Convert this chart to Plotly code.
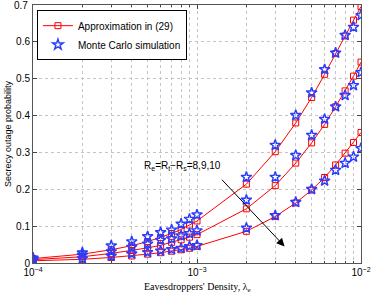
import plotly.graph_objects as go

lam = [1e-4, 2e-4, 3e-4, 4e-4, 5e-4, 6e-4, 7e-4, 8e-4, 9e-4, 1e-3,
       2e-3, 3e-3, 4e-3, 5e-3, 6e-3, 7e-3, 8e-3, 9e-3, 1e-2]

approx_8 = [0.012, 0.024, 0.036, 0.047, 0.058, 0.069, 0.080, 0.091, 0.103, 0.114,
            0.214, 0.302, 0.380, 0.449, 0.512, 0.568, 0.616, 0.659, 0.696]
sim_8 = [0.014, 0.028, 0.047, 0.058, 0.072, 0.083, 0.090, 0.106, 0.119, 0.131,
         0.233, 0.320, 0.401, 0.462, 0.525, 0.570, 0.618, 0.640, 0.672]
approx_9 = [0.009, 0.017, 0.026, 0.034, 0.041, 0.048, 0.056, 0.063, 0.070, 0.077,
            0.147, 0.210, 0.271, 0.326, 0.376, 0.424, 0.467, 0.507, 0.545]
sim_9 = [0.011, 0.021, 0.031, 0.043, 0.052, 0.062, 0.066, 0.074, 0.080, 0.088,
         0.171, 0.233, 0.292, 0.347, 0.390, 0.424, 0.455, 0.482, 0.517]
approx_10 = [0.006, 0.010, 0.015, 0.019, 0.024, 0.028, 0.032, 0.036, 0.040, 0.045,
             0.086, 0.126, 0.163, 0.198, 0.232, 0.266, 0.298, 0.327, 0.354]
sim_10 = [0.008, 0.012, 0.019, 0.025, 0.029, 0.033, 0.037, 0.040, 0.045, 0.048,
          0.095, 0.129, 0.165, 0.200, 0.223, 0.252, 0.271, 0.288, 0.311]

x_ticks = [1e-4, 1e-3, 1e-2]
x_ticktext = ["10<sup>−4</sup>", "10<sup>−3</sup>", "10<sup>−2</sup>"]
x_minor = [2e-4, 3e-4, 4e-4, 5e-4, 6e-4, 7e-4, 8e-4, 9e-4,
           2e-3, 3e-3, 4e-3, 5e-3, 6e-3, 7e-3, 8e-3, 9e-3]
y_ticks = [0, 0.1, 0.2, 0.3, 0.4, 0.5, 0.6, 0.7]
y_ticktext = ["0", "0.1", "0.2", "0.3", "0.4", "0.5", "0.6", ""]
y_top_label = "0.7"
x_title = "Eavesdroppers' Density, λ<sub>e</sub>"

RED = "#ff0000"
BLUE = "#2a3cff"
GRID = "#c4c4c4"

fig = go.Figure()
for i, ys in enumerate([approx_8, approx_9, approx_10]):
    fig.add_trace(go.Scatter(
        x=lam, y=ys, mode="lines+markers",
        line=dict(color=RED, width=1),
        marker=dict(symbol="square-open", size=6, color=RED, line=dict(width=1)),
        name="Approximation in (29)", showlegend=(i == 0), legendrank=1))
for i, ys in enumerate([sim_8, sim_9, sim_10]):
    fig.add_trace(go.Scatter(
        x=lam, y=ys, mode="markers",
        marker=dict(symbol="star-open", size=8, color=BLUE, line=dict(width=1.4)),
        name="Monte Carlo simulation", showlegend=(i == 0), legendrank=2))

fig.add_annotation(
    x=-2.466, y=0.045, ax=-2.8565, ay=0.230,
    xref="x", yref="y", axref="x", ayref="y",
    showarrow=True, arrowhead=2, arrowsize=1.6, arrowwidth=1, arrowcolor="black", text="")
fig.add_annotation(
    x=-3.089, y=0.263, xref="x", yref="y", showarrow=False,
    text="R<sub>e</sub>=R<sub>t</sub>−R<sub>s</sub>=8,9,10",
    font=dict(family="Liberation Sans", size=10, color="black"))
fig.add_annotation(
    x=0, y=y_ticks[-1], xref="paper", yref="y", xanchor="right", yanchor="middle",
    xshift=-3, showarrow=False, text=y_top_label,
    font=dict(family="Liberation Sans", size=10, color="black"))
fig.add_annotation(
    x=0.5, y=0, xref="paper", yref="paper", xanchor="center", yanchor="top",
    yshift=-16, showarrow=False, text=x_title,
    font=dict(family="Liberation Serif", size=10, color="black"))

fig.update_layout(
    width=371, height=293,
    margin=dict(l=33, r=10, t=5, b=30),
    paper_bgcolor="white", plot_bgcolor="white",
    font=dict(family="Liberation Sans", size=10, color="black"),
    showlegend=True,
    legend=dict(x=0.012, y=0.98, xanchor="left", yanchor="top",
                bgcolor="white", bordercolor="black", borderwidth=1,
                font=dict(family="Liberation Sans", size=10),
                tracegroupgap=0, itemwidth=30),
    xaxis=dict(type="log", range=[-4, -2], automargin=False,
               tickvals=x_ticks, ticktext=x_ticktext,
               ticks="inside", ticklen=4, tickcolor="#444",
               showline=True, linecolor="#555", linewidth=1, mirror="ticks",
               showgrid=True, gridcolor=GRID, griddash="dot", gridwidth=1,
               minor=dict(tickvals=x_minor, ticks="inside", ticklen=2, tickcolor="#444",
                          showgrid=True, gridcolor=GRID, griddash="dot", gridwidth=1),
               zeroline=False,
               tickfont=dict(size=10)),
    yaxis=dict(range=[0, 0.7], tickvals=y_ticks, ticktext=y_ticktext, automargin=False,
               ticks="inside", ticklen=4, tickcolor="#444",
               showline=True, linecolor="#555", linewidth=1, mirror="ticks",
               showgrid=True, gridcolor=GRID, griddash="dot", gridwidth=1,
               zeroline=False,
               title=dict(text="Secrecy outage probability",
                          font=dict(family="Liberation Sans", size=9), standoff=2),
               tickfont=dict(size=10)),
)

fig.write_html("out.html", config={"displayModeBar": False},
               post_script="document.body.style.margin='0';document.body.style.overflow='hidden';")
